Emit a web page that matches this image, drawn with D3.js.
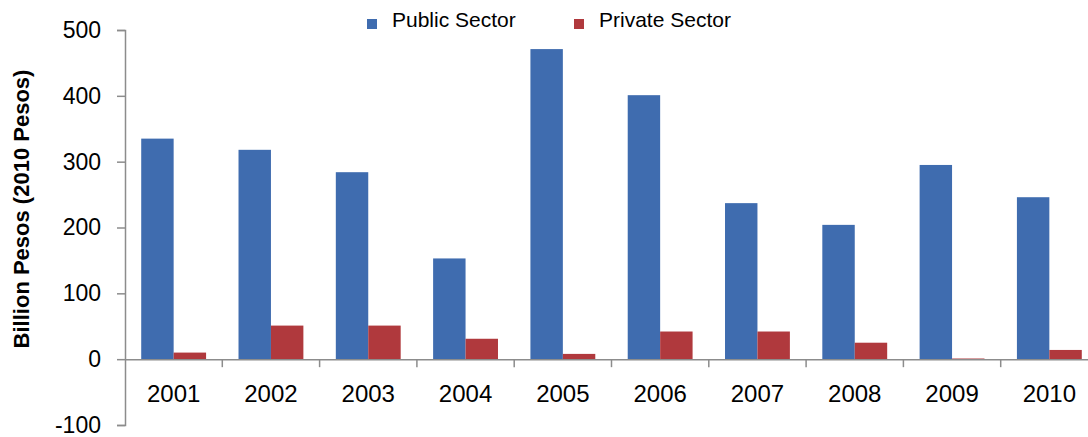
<!DOCTYPE html>
<html>
<head>
<meta charset="utf-8">
<script src="https://cdn.jsdelivr.net/npm/d3@7"></script>
<style>
  body { margin: 0; background: #fff; }
  text { font-family: Arial, "Liberation Sans", sans-serif; }
</style>
</head>
<body>
<svg width="1088" height="437"></svg>
<script>
// data
var years = ['2001', '2002', '2003', '2004', '2005', '2006', '2007', '2008', '2009', '2010'];
var seriesNames = ['Public Sector', 'Private Sector'];
var publicSector = [335, 318, 284, 153, 471, 401, 237, 204, 295, 246];
var privateSector = [10, 51, 51, 31, 8, 42, 42, 25, 1, 14];
var yTicks = [-100, 0, 100, 200, 300, 400, 500];
var colors = ['#3f6caf', '#b0393d'];

var svg = d3.select('svg');

// layout
var padding = {t: 30, r: -10, b: 12, l: 125};
var svgWidth = +svg.attr('width');
var svgHeight = +svg.attr('height');

var yScale = d3.scaleLinear()
    .domain([-100, 500])
    .range([svgHeight - padding.b, padding.t]);

var xScale = d3.scaleBand()
    .domain(years)
    .range([padding.l, svgWidth - padding.r]);

// inner scale for the two series in each year
var xInner = d3.scaleBand()
    .domain(seriesNames)
    .range([0, xScale.bandwidth()])
    .paddingInner(0)
    .paddingOuter(0.5);

var rows = years.map(function(y, i) {
    return {year: y, values: [publicSector[i], privateSector[i]]};
});

// bars
var groups = svg.append('g').selectAll('g')
    .data(rows)
    .enter()
    .append('g')
    .attr('transform', function(d) { return 'translate(' + xScale(d.year) + ',0)'; });

groups.selectAll('rect')
    .data(function(d) {
        return d.values.map(function(v, j) { return {name: seriesNames[j], value: v, i: j}; });
    })
    .enter()
    .append('rect')
    .attr('x', function(d) { return xInner(d.name); })
    .attr('width', xInner.bandwidth())
    .attr('y', function(d) { return yScale(Math.max(0, d.value)); })
    .attr('height', function(d) { return Math.abs(yScale(d.value) - yScale(0)); })
    .attr('fill', function(d) { return colors[d.i]; });

// y axis
var yAxis = d3.axisLeft(yScale)
    .tickValues(yTicks)
    .tickFormat(function(d) { return String(d); })
    .tickSize(8)
    .tickPadding(16);
var yG = svg.append('g')
    .attr('transform', 'translate(' + padding.l + ',0)')
    .call(yAxis);
yG.select('.domain').attr('stroke', '#8c8c8c').attr('stroke-width', 1.5);
yG.selectAll('.tick line').attr('stroke', '#8c8c8c').attr('stroke-width', 1.5);
yG.selectAll('.tick text')
    .attr('font-size', '23px')
    .attr('fill', '#000')
    .style('font-family', 'Arial, "Liberation Sans", sans-serif');

// x axis at zero
var xAxis = d3.axisBottom(xScale).tickSize(0).tickPadding(26);
var xG = svg.append('g')
    .attr('transform', 'translate(0,' + yScale(0) + ')')
    .call(xAxis);
xG.select('.domain').attr('stroke', '#8c8c8c').attr('stroke-width', 1.5);
xG.selectAll('.tick text')
    .attr('font-size', '24px')
    .attr('fill', '#000')
    .style('font-family', 'Arial, "Liberation Sans", sans-serif');

// separators between years
xG.selectAll('.sep')
    .data(years.slice(1))
    .enter()
    .append('line')
    .attr('class', 'sep')
    .attr('x1', function(d) { return xScale(d); })
    .attr('x2', function(d) { return xScale(d); })
    .attr('y1', 0)
    .attr('y2', 8)
    .attr('stroke', '#8c8c8c')
    .attr('stroke-width', 1.5);

// y axis title
svg.append('text')
    .attr('transform', 'translate(29,209) rotate(-90)')
    .attr('text-anchor', 'middle')
    .attr('font-size', '22px')
    .attr('font-weight', 'bold')
    .attr('fill', '#000')
    .text('Billion Pesos (2010 Pesos)');

// legend
var legendX = [367, 574];
var legend = svg.append('g');
seriesNames.forEach(function(name, i) {
    legend.append('rect')
        .attr('x', legendX[i])
        .attr('y', 19)
        .attr('width', 10)
        .attr('height', 10)
        .attr('fill', colors[i]);
    legend.append('text')
        .attr('x', legendX[i] + 25)
        .attr('y', 27)
        .attr('font-size', '21px')
        .attr('fill', '#000')
        .text(name);
});
</script>
</body>
</html>
